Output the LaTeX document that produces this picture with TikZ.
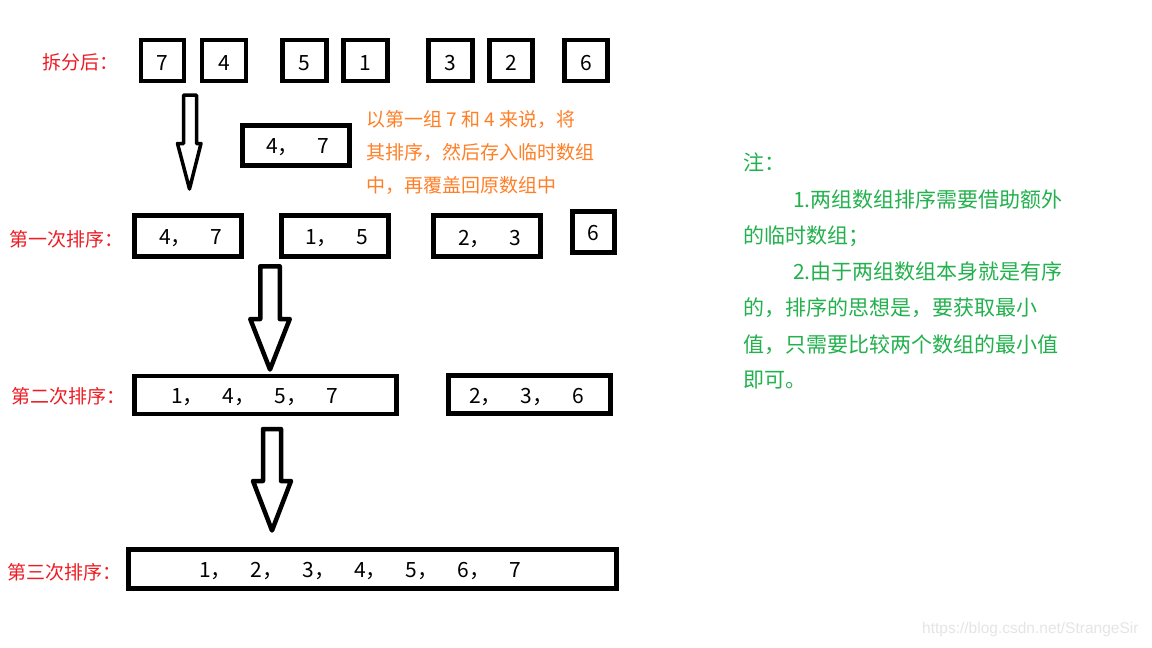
\documentclass[tikz,border=0pt]{standalone}
\usepackage{fontspec}
\setmainfont{Noto Sans CJK SC}
\newfontfamily\wmfont{Liberation Sans}
\definecolor{pred}{HTML}{ED1C24}
\definecolor{porange}{HTML}{FF7F27}
\definecolor{pgreen}{HTML}{22B14C}
\newcommand{\numgap}{\hspace{19pt}}
\begin{document}
\begin{tikzpicture}[x=1pt,y=-1pt,
  box/.style={draw=black,line width=4.5pt,inner sep=0pt,minimum width=#1},
  box/.default=45pt,
  lbl/.style={font=\fontsize{19}{19}\selectfont,text=pred,anchor=base west,inner sep=0pt},
  num/.style={font=\fontsize{21}{21}\selectfont,text=black,anchor=base,inner sep=0pt},
  numl/.style={num,anchor=base west},
  orangetxt/.style={font=\fontsize{19}{19}\selectfont,text=porange,anchor=base west,inner sep=0pt},
  greentxt/.style={font=\fontsize{21}{21}\selectfont,text=pgreen,anchor=base west,inner sep=0pt},
  barrow/.style={draw=black,line width=4.5pt,line join=round,fill=white},
  barrowthin/.style={barrow,line width=3.5pt}]
\useasboundingbox (0,0) rectangle (1152,648);
\fill[white] (0,0) rectangle (1152,648);

% ---- row 1
\node[lbl] (l1) at (42,69) {拆分后：};
\node[box=43pt,minimum height=41pt] (a1) at (162.5,60.5) {};
\node[box=44pt,minimum height=41pt] (a2) at (224,60.5) {};
\node[box=44pt,minimum height=41pt] (a3) at (304.5,60.5) {};
\node[box=44pt,minimum height=41pt] (a4) at (365.5,60.5) {};
\node[box=44pt,minimum height=41pt] (a5) at (450.5,60.5) {};
\node[box=43pt,minimum height=41pt] (a6) at (511,60.5) {};
\node[box=43pt,minimum height=41pt] (a7) at (586,60.5) {};
\node[num] (t1) at (162.5,70) {7};
\node[num] (t2) at (224,70) {4};
\node[num] (t3) at (304.5,70) {5};
\node[num] (t4) at (365.5,70) {1};
\node[num] (t5) at (450.5,70) {3};
\node[num] (t6) at (511,70) {2};
\node[num] (t7) at (586,70) {6};

% ---- arrow 1
\draw[barrowthin] (183.5,95) -- (196.5,95) -- (196.5,143.5) -- (201,143.5) -- (189.5,189)
  -- (177.5,143.5) -- (183.5,143.5) -- cycle;

% ---- temp box and orange note
\node[box=107pt,minimum height=40pt] (tmp) at (296,145.5) {};
\node[numl] (tmpt) at (266,153) {4，\numgap 7};
\node[orangetxt] (o1) at (366,126) {以第一组 7 和 4 来说，将};
\node[orangetxt] (o2) at (366,159) {其排序，然后存入临时数组};
\node[orangetxt] (o3) at (366,192) {中，再覆盖回原数组中};

% ---- row 2
\node[lbl] (l2) at (9,246) {第一次排序：};
\node[box=107pt,minimum height=41pt] (b1) at (188,236) {};
\node[box=107pt,minimum height=41pt] (b2) at (335,236) {};
\node[box=107pt,minimum height=41pt] (b3) at (487,236) {};
\node[box=42pt,minimum height=41pt] (b4) at (593.5,232) {};
\node[numl] (u1) at (159,244) {4，\numgap 7};
\node[numl] (u2) at (305,244) {1，\numgap 5};
\node[numl] (u3) at (458,245) {2，\numgap 3};
\node[num] (u4) at (593,240) {6};

% ---- arrow 2
\draw[barrow] (260.25,266.25) -- (279.75,266.25) -- (279.75,319) -- (289.75,319) -- (270,369.5)
  -- (250.25,319) -- (260.25,319) -- cycle;

% ---- row 3
\node[lbl] (l3) at (11,403) {第二次排序：};
\node[box=262pt,minimum height=38pt] (c1) at (265.5,395) {};
\node[box=162pt,minimum height=38pt] (c2) at (529.5,394.5) {};
\node[numl] (v1) at (171,403) {1，\numgap 4，\numgap 5，\numgap 7};
\node[numl] (v2) at (469,403) {2，\numgap 3，\numgap 6};

% ---- arrow 3
\draw[barrow] (263,429) -- (281,429) -- (281,481) -- (291,481) -- (272,530.5)
  -- (253,481) -- (263,481) -- cycle;

% ---- row 4
\node[lbl] (l4) at (7,579) {第三次排序：};
\node[box=488pt,minimum height=39pt] (d1) at (372.5,569) {};
\node[numl] (w1) at (199,577) {1，\numgap 2，\numgap 3，\numgap 4，\numgap 5，\numgap 6，\numgap 7};

% ---- green notes
\node[greentxt] (g1) at (743,170) {注：};
\node[greentxt] (g2) at (793,207) {1.两组数组排序需要借助额外};
\node[greentxt] (g3) at (743,243) {的临时数组；};
\node[greentxt] (g4) at (793,279) {2.由于两组数组本身就是有序};
\node[greentxt] (g5) at (743,315) {的，排序的思想是，要获取最小};
\node[greentxt] (g6) at (743,352) {值，只需要比较两个数组的最小值};
\node[greentxt] (g7) at (743,387) {即可。};

% ---- watermark
\node[font=\wmfont\fontsize{15.5}{15.5}\selectfont,text=black!10,anchor=base west,inner sep=0pt] (wm) at (922,633) {https://blog.csdn.net/StrangeSir};
\end{tikzpicture}
\end{document}
